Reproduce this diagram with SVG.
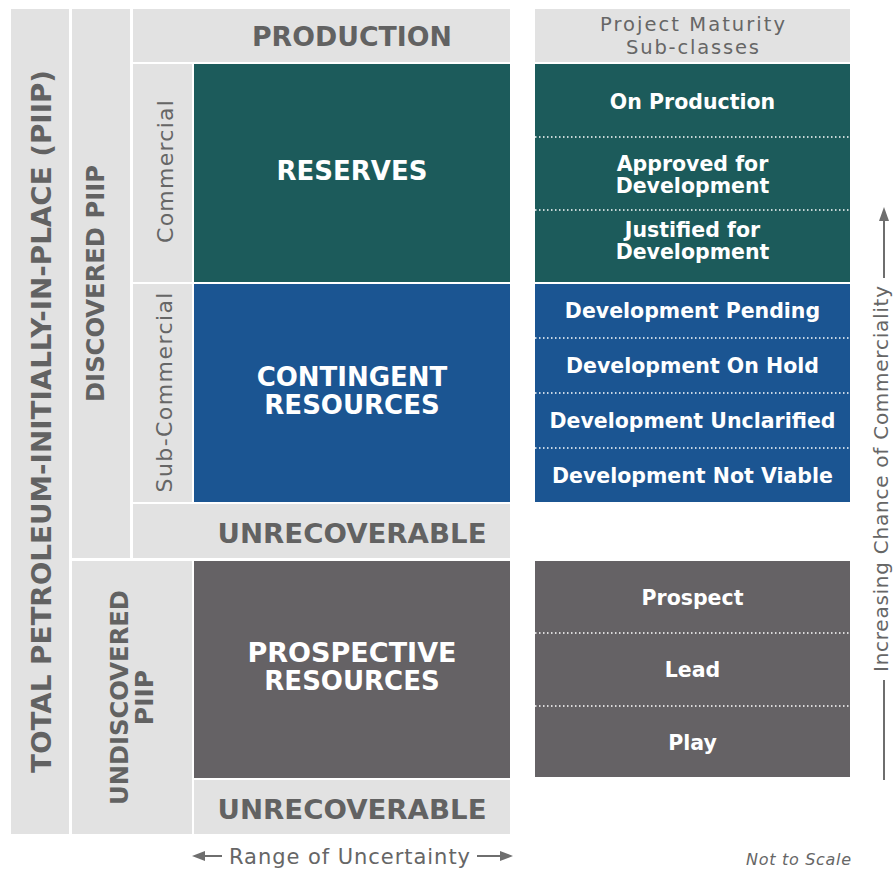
<svg xmlns="http://www.w3.org/2000/svg" width="893" height="869" viewBox="0 0 893 869">
  <style>
    .lg { fill: #e2e2e2; }
    .teal { fill: #1c5b5b; }
    .blue { fill: #1b5592; }
    .dg { fill: #656265; }
    .hd { font-family: "DejaVu Sans", "Liberation Sans", sans-serif; font-weight: bold; text-anchor: middle; }
    .gt { fill: #626262; }
    .wt { fill: #ffffff; }
    .rg { font-family: "DejaVu Sans", "Liberation Sans", sans-serif; font-weight: normal; text-anchor: middle; fill: #666666; }
    .sub { font-family: "DejaVu Sans", "Liberation Sans", sans-serif; font-weight: bold; font-size: 20.5px; text-anchor: middle; fill: #ffffff; }
    .dot { stroke: #ffffff; stroke-width: 1.5; stroke-dasharray: 1.5 2.5; fill: none; }
    .ax { stroke: #6e6e6e; stroke-width: 2; fill: none; }
    .axh { fill: #6e6e6e; }
  </style>
  <rect x="0" y="0" width="893" height="869" fill="#ffffff"/>

  <g id="total-piip">
    <rect class="lg" x="11" y="9" width="58" height="825"/>
    <text class="hd gt" font-size="27" transform="translate(51,421.5) rotate(-90)" textLength="703" lengthAdjust="spacingAndGlyphs">TOTAL PETROLEUM-INITIALLY-IN-PLACE (PIIP)</text>
  </g>

  <g id="discovered-piip">
    <rect class="lg" x="72" y="9" width="58" height="549"/>
    <text class="hd gt" font-size="25" transform="translate(104,283.5) rotate(-90)" textLength="237" lengthAdjust="spacingAndGlyphs">DISCOVERED PIIP</text>
  </g>

  <g id="undiscovered-piip">
    <rect class="lg" x="72" y="561" width="120" height="273"/>
    <text class="hd gt" font-size="25" transform="translate(128,697.5) rotate(-90)" textLength="215" lengthAdjust="spacingAndGlyphs">UNDISCOVERED</text>
    <text class="hd gt" font-size="25" transform="translate(153,697.5) rotate(-90)">PIIP</text>
  </g>

  <g id="production">
    <rect class="lg" x="133" y="9" width="377" height="53"/>
    <text class="hd gt" font-size="27" x="352" y="46" textLength="200" lengthAdjust="spacingAndGlyphs">PRODUCTION</text>
  </g>

  <g id="commercial">
    <rect class="lg" x="133" y="64" width="59" height="218"/>
    <text class="rg" font-size="22" transform="translate(173,171.5) rotate(-90)" textLength="143">Commercial</text>
  </g>

  <g id="reserves">
    <rect class="teal" x="194" y="64" width="316" height="218"/>
    <text class="hd wt" font-size="26" x="352" y="180">RESERVES</text>
  </g>

  <g id="sub-commercial">
    <rect class="lg" x="133" y="284" width="59" height="218"/>
    <text class="rg" font-size="22" transform="translate(172,392.5) rotate(-90)" textLength="200">Sub-Commercial</text>
  </g>

  <g id="contingent-resources">
    <rect class="blue" x="194" y="284" width="316" height="218"/>
    <text class="hd wt" font-size="26" x="352" y="386">CONTINGENT</text>
    <text class="hd wt" font-size="26" x="352" y="414">RESOURCES</text>
  </g>

  <g id="unrecoverable-discovered">
    <rect class="lg" x="133" y="504" width="377" height="54"/>
    <text class="hd gt" font-size="27" x="352" y="543" textLength="269" lengthAdjust="spacingAndGlyphs">UNRECOVERABLE</text>
  </g>

  <g id="prospective-resources">
    <rect class="dg" x="194" y="561" width="316" height="217"/>
    <text class="hd wt" font-size="26" x="352" y="662" textLength="209" lengthAdjust="spacingAndGlyphs">PROSPECTIVE</text>
    <text class="hd wt" font-size="26" x="352" y="690">RESOURCES</text>
  </g>

  <g id="unrecoverable-undiscovered">
    <rect class="lg" x="194" y="780" width="316" height="54"/>
    <text class="hd gt" font-size="27" x="352" y="819" textLength="269" lengthAdjust="spacingAndGlyphs">UNRECOVERABLE</text>
  </g>

  <g id="project-maturity-header">
    <rect class="lg" x="535" y="9" width="315" height="53"/>
    <text class="rg" font-size="19.5" x="692.5" y="31" textLength="185">Project Maturity</text>
    <text class="rg" font-size="19.5" x="692.5" y="54" textLength="133">Sub-classes</text>
  </g>

  <g id="reserves-subclasses">
    <rect class="teal" x="535" y="64" width="315" height="218"/>
    <line class="dot" x1="535" y1="137" x2="850" y2="137"/>
    <line class="dot" x1="535" y1="210" x2="850" y2="210"/>
    <text class="sub" x="692.5" y="109">On Production</text>
    <text class="sub" x="692.5" y="171">Approved for</text>
    <text class="sub" x="692.5" y="193">Development</text>
    <text class="sub" x="692.5" y="237">Justified for</text>
    <text class="sub" x="692.5" y="259">Development</text>
  </g>

  <g id="contingent-subclasses">
    <rect class="blue" x="535" y="284" width="315" height="218"/>
    <line class="dot" x1="535" y1="338" x2="850" y2="338"/>
    <line class="dot" x1="535" y1="393" x2="850" y2="393"/>
    <line class="dot" x1="535" y1="448" x2="850" y2="448"/>
    <text class="sub" x="692.5" y="318">Development Pending</text>
    <text class="sub" x="692.5" y="373">Development On Hold</text>
    <text class="sub" x="692.5" y="428">Development Unclarified</text>
    <text class="sub" x="692.5" y="483">Development Not Viable</text>
  </g>

  <g id="prospective-subclasses">
    <rect class="dg" x="535" y="561" width="315" height="216"/>
    <line class="dot" x1="535" y1="633" x2="850" y2="633"/>
    <line class="dot" x1="535" y1="706" x2="850" y2="706"/>
    <text class="sub" x="692.5" y="605">Prospect</text>
    <text class="sub" x="692.5" y="677">Lead</text>
    <text class="sub" x="692.5" y="750">Play</text>
  </g>

  <g id="axes">
    <line class="ax" x1="884" y1="218" x2="884" y2="278"/>
    <polygon class="axh" points="884,207 879,221 889,221"/>
    <line class="ax" x1="884" y1="680" x2="884" y2="780"/>
    <text class="rg" font-size="20" font-weight="300" fill="#707070" transform="translate(888,479) rotate(-90)" textLength="386">Increasing Chance of Commerciality</text>

    <line class="ax" x1="203" y1="856" x2="222" y2="856"/>
    <polygon class="axh" points="192,856 205,851 205,861"/>
    <line class="ax" x1="477" y1="856" x2="500" y2="856"/>
    <polygon class="axh" points="513,856 500,851 500,861"/>
    <text class="rg" font-size="21" fill="#666666" x="349.5" y="864" textLength="241">Range of Uncertainty</text>
    <text font-family="DejaVu Sans, Liberation Sans, sans-serif" font-style="italic" font-size="16" fill="#666666" x="798.5" y="865" text-anchor="middle" textLength="105">Not to Scale</text>
  </g>
</svg>
